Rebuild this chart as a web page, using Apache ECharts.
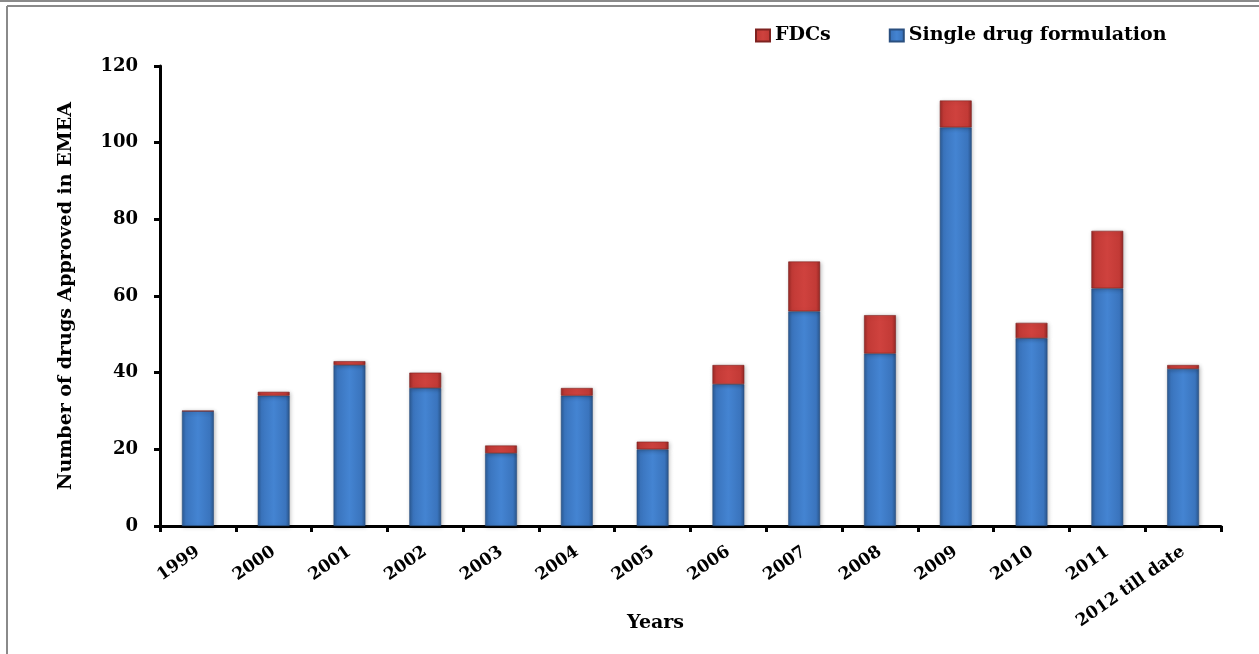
<!DOCTYPE html>
<html>
<head>
<meta charset="utf-8">
<script src="https://cdn.jsdelivr.net/npm/echarts@6/dist/echarts.min.js"></script>
<style>
html,body{margin:0;padding:0;background:#fff;}
#c{width:1259px;height:654px;}
</style>
</head>
<body>
<div id="c"></div>
<script>
const categories = ['1999','2000','2001','2002','2003','2004','2005','2006','2007','2008','2009','2010','2011','2012 till date'];
const singleDrug = [30,34,42,36,19,34,20,37,56,45,104,49,62,41];
const fdcs = [0,1,1,4,2,2,2,5,13,10,7,4,15,1];
const yTicks = {min:0, max:120, interval:20};

const font = '"DejaVu Serif", "Liberation Serif", serif';
const chart = echarts.init(document.getElementById('c'));

const blueGrad = new echarts.graphic.LinearGradient(0,0,1,0,[
  {offset:0,color:'#2c5b94'},{offset:0.12,color:'#3a74bd'},
  {offset:0.5,color:'#4484d2'},{offset:0.88,color:'#3a74bd'},{offset:1,color:'#2a568c'}]);
const redGrad = new echarts.graphic.LinearGradient(0,0,1,0,[
  {offset:0,color:'#9c2a27'},{offset:0.12,color:'#c23a36'},
  {offset:0.5,color:'#cf423e'},{offset:0.88,color:'#c23a36'},{offset:1,color:'#962825'}]);

chart.setOption({
  animation:false,
  backgroundColor:'#ffffff',
  graphic:[
    {type:'line', shape:{x1:0,y1:1,x2:1259,y2:1}, style:{stroke:'#8a8a8a',lineWidth:2}},
    {type:'line', shape:{x1:7,y1:6,x2:1259,y2:6}, style:{stroke:'#8a8a8a',lineWidth:2}},
    {type:'line', shape:{x1:7,y1:6,x2:7,y2:654}, style:{stroke:'#8a8a8a',lineWidth:2}}
  ],
  legend:{
    data:['FDCs','Single drug formulation'],
    left:750, top:21,
    itemWidth:14, itemHeight:12, itemGap:58,
    icon:'rect',
    textStyle:{fontFamily:font, fontWeight:'bold', fontSize:19, color:'#000'}
  },
  grid:{left:160, right:38, top:66, bottom:128, containLabel:false, outerBoundsMode:'none'},
  xAxis:{
    type:'category',
    data:categories,
    name:'Years',
    nameLocation:'middle',
    nameGap:88,
    nameMoveOverlap:false,
    nameTextStyle:{fontFamily:font, fontWeight:'bold', fontSize:19, color:'#000', padding:[0,70,0,0]},
    axisLine:{show:true, lineStyle:{color:'#000', width:3}},
    axisTick:{show:true, alignWithLabel:false, length:6, lineStyle:{color:'#000', width:3}},
    axisLabel:{interval:0, rotate:35, fontFamily:font, fontWeight:'bold', fontSize:17, color:'#000', margin:24}
  },
  yAxis:{
    type:'value',
    min:yTicks.min, max:yTicks.max, interval:yTicks.interval,
    name:'Number of drugs Approved in EMEA',
    nameLocation:'middle',
    nameRotate:90,
    nameGap:84,
    nameTextStyle:{fontFamily:font, fontWeight:'bold', fontSize:19, color:'#000'},
    splitLine:{show:false},
    axisLine:{show:true, lineStyle:{color:'#000', width:3}},
    axisTick:{show:true, inside:false, length:6, lineStyle:{color:'#000', width:3}},
    axisLabel:{fontFamily:font, fontWeight:'bold', fontSize:18, color:'#000', margin:22}
  },
  series:[
    {
      name:'Single drug formulation', type:'bar', stack:'total', data:singleDrug,
      barWidth:'42%',
      itemStyle:{color:blueGrad, borderColor:'#2a4f7f', borderWidth:0.6,
        shadowColor:'rgba(0,0,0,0.25)', shadowBlur:4, shadowOffsetX:1, shadowOffsetY:1}
    },
    {
      name:'FDCs', type:'bar', stack:'total', data:fdcs,
      barWidth:'42%',
      itemStyle:{color:redGrad, borderColor:'#7e2220', borderWidth:0.6,
        shadowColor:'rgba(0,0,0,0.25)', shadowBlur:4, shadowOffsetX:1, shadowOffsetY:1}
    }
  ]
});
</script>
</body>
</html>
